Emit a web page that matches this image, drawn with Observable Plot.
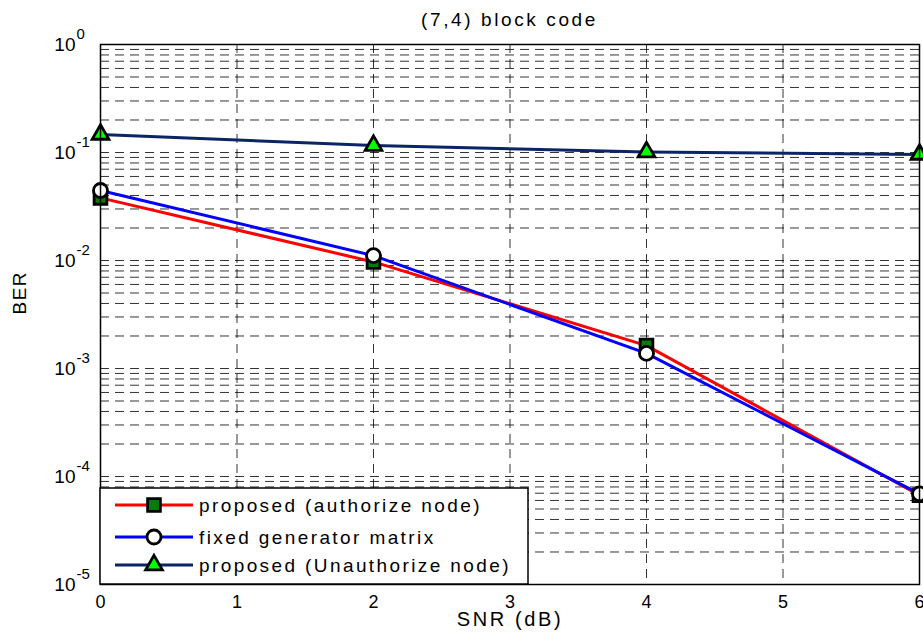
<!DOCTYPE html>
<html><head><meta charset="utf-8">
<script src="https://cdn.jsdelivr.net/npm/d3@7"></script>
<script src="https://cdn.jsdelivr.net/npm/@observablehq/plot@0.6"></script>
<style>
body{margin:0;background:#fff;font-family:"Liberation Sans",Arial,sans-serif;}
#wrap{position:relative;width:923px;height:639px;overflow:hidden;background:#fff;}
#title{position:absolute;left:100px;width:819px;top:9px;text-align:center;font-size:19px;letter-spacing:2.6px;line-height:22px;color:#000;z-index:2;}
#chart{position:absolute;left:0;top:24px;z-index:1;}
</style></head><body>
<div id="wrap"><div id="title">(7,4) block code</div><div id="chart"></div></div>
<script>
// ---- data ----
const snr = [0, 2, 4, 6];
const berAuthorized = [0.038, 0.0097, 0.00163, 0.000067];
const berFixed = [0.0445, 0.0111, 0.00138, 0.000069];
const berUnauthorized = [0.147, 0.116, 0.101, 0.096];
const seriesNames = ["proposed (authorize node)", "fixed generator matrix", "proposed (Unauthorize node)"];
const xTicks = [0, 1, 2, 3, 4, 5, 6];
const decadeExps = [0, -1, -2, -3, -4, -5];
const xLabel = "SNR (dB)";
const yLabel = "BER";

const series = [
  {name: seriesNames[0], values: berAuthorized, color: "#ff0000", symbol: "square", fill: "#087a08", r: 7.2},
  {name: seriesNames[1], values: berFixed, color: "#0000ff", symbol: "circle", fill: "#ffffff", r: 7},
  {name: seriesNames[2], values: berUnauthorized, color: "#0b2466", symbol: "triangle", fill: "#00ff00", r: 6.2}
];
const rows = series.map(s => snr.map((x, i) => ({x, y: s.values[i], name: s.name})));

const gridY = [];
for (const e of decadeExps.slice(1)) for (let k = 1; k <= 9; k++) gridY.push(k * 10 ** e);
gridY.push(1);
const gridX = xTicks.filter(x => x > 0 && x < 6);

const marks = [
  Plot.ruleY(gridY, {stroke: "#000", strokeWidth: 1, strokeDasharray: "9,6", strokeOpacity: 0.8}),
  Plot.ruleX(gridX, {stroke: "#000", strokeWidth: 1, strokeDasharray: "9,6", strokeOpacity: 0.8}),
  Plot.axisX({ticks: xTicks, tickSize: 0, tickPadding: 11, fontSize: 18, label: null, tickFormat: d => String(d)}),
  Plot.axisY({ticks: decadeExps.map(e => 10 ** e), tickSize: 0, tickPadding: 25, fontSize: 19, label: null, tickFormat: () => "10"}),
  Plot.text(decadeExps, {y: d => 10 ** d, text: d => String(d), frameAnchor: "left", dx: -24, dy: -10, textAnchor: "start", fontSize: 15}),
  Plot.text([xLabel], {frameAnchor: "bottom", dy: 41, text: d => d, fontSize: 20}),
  Plot.text([yLabel], {frameAnchor: "left", dx: -81, rotate: -90, text: d => d, fontSize: 19})
];
series.forEach((s, i) => {
  marks.push(Plot.line(rows[i], {x: "x", y: "y", stroke: s.color, strokeWidth: 3}));
  marks.push(Plot.dot(rows[i], {x: "x", y: "y", symbol: s.symbol, r: s.r, fill: s.fill, stroke: "#000", strokeWidth: 2.8}));
});
marks.push(Plot.frame({stroke: "#000", strokeWidth: 1.5}));

const chart = Plot.plot({
  width: 923,
  height: 615,
  marginLeft: 100,
  marginRight: 4,
  marginTop: 20,
  marginBottom: 55,
  style: {fontFamily: "'Liberation Sans', Arial, sans-serif", fontSize: "18px", color: "#000", background: "transparent", overflow: "visible"},
  x: {domain: [0, 6]},
  y: {type: "log", domain: [1e-5, 1]},
  marks
});
document.getElementById("chart").appendChild(chart);

const svg = d3.select(chart);
svg.selectAll("text").filter(function() { return this.textContent === xLabel; }).attr("letter-spacing", "2.6px");
svg.selectAll("text").filter(function() { return this.textContent === yLabel; }).attr("letter-spacing", "1.5px");

// ---- legend (inside the plot area, bottom-left) ----
const lg = svg.append("g").attr("class", "legend");
const bx = 100, by = 464, bw = 428, bh = 96;
lg.append("rect").attr("x", bx).attr("y", by).attr("width", bw).attr("height", bh)
  .attr("fill", "#fff").attr("stroke", "#000").attr("stroke-width", 1.5);
const rowY = [481, 513, 541];
const symMap = {square: d3.symbolSquare, circle: d3.symbolCircle, triangle: d3.symbolTriangle};
series.forEach((s, i) => {
  const y = rowY[i];
  lg.append("line").attr("x1", 115).attr("x2", 193).attr("y1", y).attr("y2", y)
    .attr("stroke", s.color).attr("stroke-width", 3);
  lg.append("path").attr("transform", `translate(154,${y})`)
    .attr("d", d3.symbol(symMap[s.symbol], s.r * s.r * Math.PI)())
    .attr("fill", s.fill).attr("stroke", "#000").attr("stroke-width", 2.8);
  lg.append("text").attr("x", 199).attr("y", y).attr("dy", "0.35em")
    .attr("text-anchor", "start")
    .attr("font-size", 19).attr("letter-spacing", "2.4px").attr("fill", "#000")
    .text(s.name);
});
</script>
</body></html>
